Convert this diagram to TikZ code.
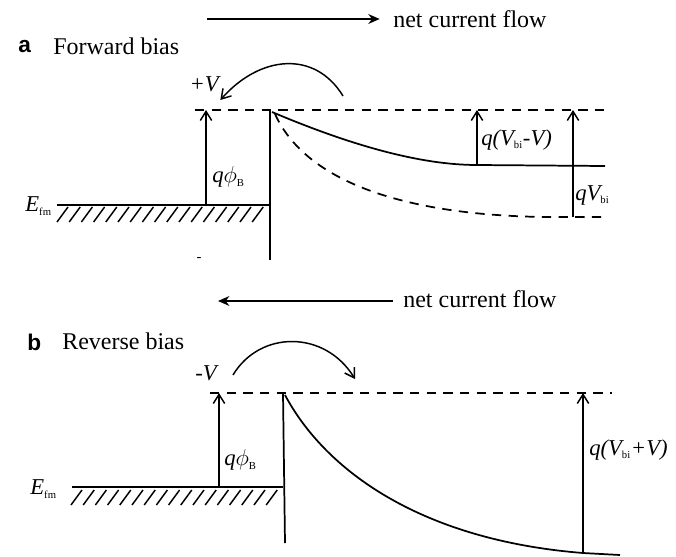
\documentclass[tikz,border=0pt]{standalone}
\usepackage{fontspec}
\setmainfont{Liberation Serif}
\newfontfamily\panelfont{Liberation Sans}
\usetikzlibrary{arrows.meta,calc}
\newcommand{\sub}[1]{\textsubscript{\upshape\fontsize{8}{9}\selectfont #1}}

\begin{document}
\begin{tikzpicture}[x=0.75pt, y=-0.75pt,
    band/.style={line width=1.3pt},
    level/.style={line width=1.3pt, dash pattern=on 7pt off 5.5pt},
    hatch/.style={line width=1.1pt},
    arrow/.style={-{Straight Barb[length=2.4mm,width=3mm]}, line width=1.1pt},
    flow/.style={-{Stealth[length=3mm,width=2.6mm]}, line width=1.1pt},
    txt/.style={font=\fontsize{18}{20}\selectfont, inner sep=0pt},
    sym/.style={font=\fontsize{17}{19}\selectfont\itshape, inner sep=0pt},
    panel/.style={font=\fontsize{17}{19}\selectfont\panelfont\bfseries, inner sep=0pt}
]
\useasboundingbox (0,0) rectangle (676,557);

% --- (a) forward bias ---
\node[panel, anchor=west] (pa)  at (18,47) {a};
\node[txt, anchor=west]   (fwd) at (53,46) {Forward bias};

\coordinate (aflowL) at (207,19);
\node[txt, anchor=west] (aflow) at (393,19) {net current flow};
\draw[flow] (aflowL) -- ([xshift=-10pt]aflow.west);

\coordinate (aMetal)  at (57,205);
\coordinate (aJct)    at (270,205);
\coordinate (aTop)    at (270,110);
\coordinate (aBot)    at (270,260);
\coordinate (aPhiLo)  at (206,205);
\coordinate (aPhiHi)  at (206,110);
\coordinate (aFlat)   at (477,165);
\coordinate (aFlatHi) at (477,110);
\coordinate (aBi)     at (573,217);
\coordinate (aBiHi)   at (573,110);
\coordinate (aHopS)   at (343,96);

\node[sym, anchor=east] (aEf)  at (52,206) {E\sub{fm}};
\node[sym, anchor=east] (aV)   at (219,84) {+V};
\node[sym, anchor=west] (aPhi) at (212,177) {q$\phi$\sub{B}};
\node[sym, anchor=west] (aVbV) at (481,140) {q(V\sub{bi}-V)};
\node[sym, anchor=west] (aVb)  at (575,195) {qV\sub{bi}};
\node[txt, font=\fontsize{11}{12}\selectfont] (aMinus) at (199,259) {-};

\draw[band] (aMetal) -- (aJct);
\foreach \i in {0,...,16}
  \draw[hatch] ({68+12.2*\i},207) -- ++(-11,15);
\draw[band] (aTop) -- (aBot);
\draw[level] (195,110) -- (607,110);
\draw[band] (272,112) .. controls (350,145) and (420,165) .. (aFlat) -- (605,166);
\draw[level] (275,114) .. controls (305,180) and (400,215) .. (545,217) -- (607,217);

\draw[arrow] (aPhiLo) -- (aPhiHi);
\draw[arrow] (aFlat) -- (aFlatHi);
\draw[arrow] (aBi) -- (aBiHi);
\draw[arrow] (aHopS) .. controls (315,50) and (260,55) .. ([xshift=1pt,yshift=-12pt]aV.east);

% --- (b) reverse bias ---
\node[panel, anchor=west] (pb)  at (27,342) {b};
\node[txt, anchor=west]   (rev) at (62,341) {Reverse bias};

\coordinate (bflowR) at (393,301);
\coordinate (bflowL) at (218,301);
\node[txt, anchor=west] (bflow) at (403,299) {net current flow};
\draw[flow] (bflowR) -- (bflowL);

\coordinate (bMetal)  at (72,487);
\coordinate (bJct)    at (283,487);
\coordinate (bTop)    at (283,393);
\coordinate (bBot)    at (285,543);
\coordinate (bPhiLo)  at (219,487);
\coordinate (bPhiHi)  at (219,393);
\coordinate (bBi)     at (583,553);
\coordinate (bBiHi)   at (583,393);
\coordinate (bHopS)   at (233,375);
\coordinate (bHopE)   at (355,379);

\node[sym, anchor=east] (bEf)  at (57,489) {E\sub{fm}};
\node[sym, anchor=east] (bV)   at (217,373) {-V};
\node[sym, anchor=west] (bPhi) at (224,460) {q$\phi$\sub{B}};
\node[sym, anchor=west] (bVbV) at (589,450) {q(V\sub{bi}+V)};

\draw[band] (bMetal) -- (bJct);
\foreach \i in {0,...,16}
  \draw[hatch] ({82+12.2*\i},490) -- ++(-11,15);
\draw[band] (bTop) -- (bBot);
\draw[level] (210,393) -- (612,393);
\draw[band] (285,395) .. controls (325,470) and (420,540) .. (bBi) -- (620,555);

\draw[arrow] (bPhiLo) -- (bPhiHi);
\draw[arrow] (bBi) -- (bBiHi);
\draw[arrow] (bHopS) .. controls (260,330) and (325,330) .. (bHopE);

\end{tikzpicture}
\end{document}
